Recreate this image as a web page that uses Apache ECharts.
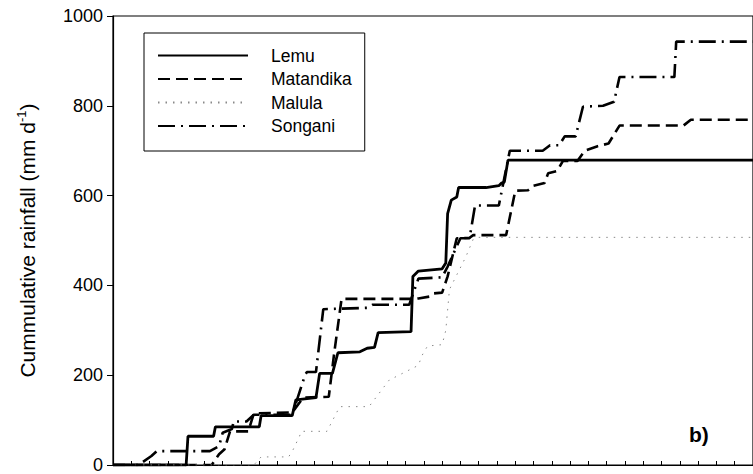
<!DOCTYPE html>
<html>
<head>
<meta charset="utf-8">
<script src="https://cdn.jsdelivr.net/npm/echarts@6/dist/echarts.min.js"></script>
<style>
  html, body { margin: 0; padding: 0; background: #fff; }
  #chart { width: 753px; height: 474px; }
</style>
</head>
<body>
<div id="chart"></div>
<script>
// cumulative rainfall per site (day, mm)
const lemuDays = [0, 40, 41, 55, 56, 80, 81, 98, 100, 111, 113, 120, 123, 135, 139, 143, 145, 163, 164, 167, 180, 182, 183, 185, 188, 189, 204, 211, 212.5, 214, 216, 350];
const lemuRain = [0, 0, 64, 64, 85, 85, 110, 110, 145, 150, 204, 204, 250, 252, 260, 262, 295, 297, 420, 432, 437, 450, 560, 590, 597, 618, 618, 622, 628, 630, 679, 679];

const matandikaDays = [0, 54, 58, 61, 64, 74, 77, 98, 104, 118, 121, 125, 165, 167, 173, 175, 180, 183, 188, 195, 197, 215, 220, 227, 230, 236, 238, 243, 246, 254, 258, 265, 271, 277, 312, 316, 350];
const matandikaRain = [0, 0, 24, 35, 75, 75, 115, 117, 150, 152, 250, 370, 370, 371, 375, 382, 384, 420, 505, 506, 512, 512, 611, 612, 622, 628, 650, 655, 677, 677, 700, 710, 716, 756, 756, 769, 769];

const malulaDays = [0, 77, 81, 96, 98, 102, 103, 117, 124, 140, 151, 167, 169, 172, 180, 182, 184, 193, 197, 200, 350];
const malulaRain = [0, 0, 18, 18, 30, 64, 75, 75, 130, 130, 189, 222, 244, 265, 268, 300, 391, 464, 503, 507, 507];

const songaniDays = [0, 14, 21, 24, 53, 58, 60, 65, 66, 73, 77, 98, 105, 106, 111, 115, 139, 142, 162, 167, 180, 183, 190, 195, 198, 211, 217, 235, 239, 244, 247, 253, 257, 268, 274, 277, 307, 308, 350];
const songaniRain = [0, 0, 20, 31, 31, 42, 72, 80, 97, 97, 112, 112, 200, 207, 207, 347, 350, 357, 357, 415, 418, 442, 505, 505, 578, 578, 700, 700, 712, 712, 732, 732, 798, 800, 809, 864, 864, 943, 943];

const yTicks = [0, 200, 400, 600, 800, 1000];

function pairs(days, rain) {
  return days.map((d, i) => [d, rain[i]]);
}

const font = 'Liberation Sans, Arial, sans-serif';
const chart = echarts.init(document.getElementById('chart'), null, { renderer: 'svg' });

const option = {
  animation: false,
  backgroundColor: '#fff',
  grid: {
    left: 113,
    top: 16,
    width: 659,
    height: 455,
    show: true,
    borderColor: '#000',
    borderWidth: 1.2
  },
  xAxis: {
    type: 'value',
    min: 0,
    max: 350,
    interval: 10,
    axisLine: { show: true, lineStyle: { color: '#000', width: 1.2 } },
    axisTick: { show: true, inside: true, length: 4, lineStyle: { color: '#000' } },
    axisLabel: { show: false },
    splitLine: { show: false }
  },
  yAxis: {
    type: 'value',
    min: yTicks[0],
    max: yTicks[yTicks.length - 1],
    interval: 200,
    axisLine: { show: true, lineStyle: { color: '#000', width: 1.2 } },
    axisTick: { show: true, length: 6, lineStyle: { color: '#000' } },
    axisLabel: {
      color: '#000', fontSize: 18, fontFamily: font, margin: 10,
      formatter: v => String(v)
    },
    splitLine: { show: false },
    name: '{t|Cummulative rainfall (mm d}{s|-1}{t|)}',
    nameLocation: 'middle',
    nameGap: 74,
    nameTextStyle: {
      fontSize: 21,
      fontFamily: font,
      rich: {
        t: { fontSize: 21, fontFamily: font, color: '#000', lineHeight: 24 },
        s: { fontSize: 13, fontFamily: font, color: '#000', verticalAlign: 'top' }
      }
    }
  },
  legend: {
    orient: 'vertical',
    left: 144,
    top: 33,
    padding: [13.5, 13, 16, 13],
    borderColor: '#000',
    borderWidth: 1,
    itemWidth: 90,
    itemHeight: 17,
    itemGap: 5.5,
    itemStyle: { opacity: 0 },
    textStyle: { fontSize: 17.5, fontFamily: font, color: '#000', lineHeight: 17, padding: [0, 0, 0, 18] },
    data: ['Lemu', 'Matandika', 'Malula', 'Songani']
  },
  graphic: [{
    type: 'text',
    left: 689,
    top: 424,
    style: { text: 'b)', fontSize: 21, fontWeight: 'bold', fontFamily: font, fill: '#000' }
  }],
  series: [
    {
      name: 'Lemu', type: 'line', symbol: 'none',
      data: pairs(lemuDays, lemuRain),
      lineStyle: { color: '#000', width: 2.8, type: 'solid' },
      itemStyle: { color: '#000' }
    },
    {
      name: 'Matandika', type: 'line', symbol: 'none',
      data: pairs(matandikaDays, matandikaRain),
      lineStyle: { color: '#000', width: 2.6, type: [12, 6] },
      itemStyle: { color: '#000' }
    },
    {
      name: 'Malula', type: 'line', symbol: 'none',
      data: pairs(malulaDays, malulaRain),
      lineStyle: { color: '#8a8a8a', width: 1, type: [1.5, 6] },
      itemStyle: { color: '#8a8a8a' }
    },
    {
      name: 'Songani', type: 'line', symbol: 'none',
      data: pairs(songaniDays, songaniRain),
      lineStyle: { color: '#000', width: 2.6, type: [17, 6, 2, 6] },
      itemStyle: { color: '#000' }
    }
  ]
};

chart.setOption(option);
</script>
</body>
</html>
